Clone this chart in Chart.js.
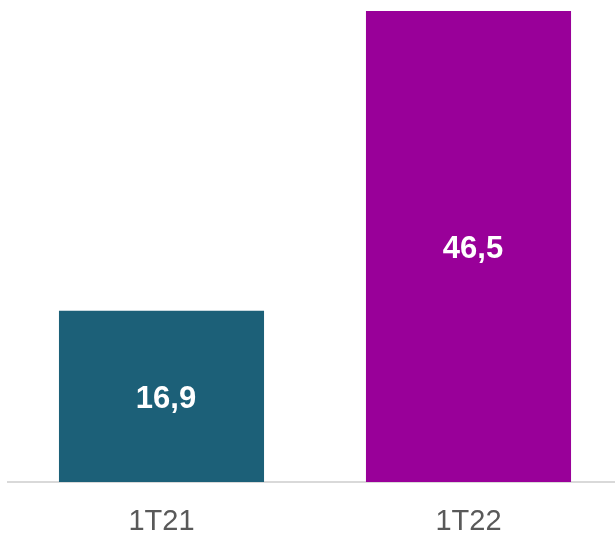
<!DOCTYPE html>
<html>
<head>
<meta charset="utf-8">
<script src="https://cdn.jsdelivr.net/npm/chart.js@4"></script>
<style>
    html, body { margin: 0; padding: 0; background: #fff; overflow: hidden; }
    #wrap { width: 622px; height: 535px; }
</style>
</head>
<body>
<div id="wrap"><canvas id="chart"></canvas></div>
<script>
const periods = ["1T21", "1T22"];
const values = [16.9, 46.5];
const barColors = ["#1c6078", "#990099"];

// white value label centred in each bar
const valueLabels = {
    id: "valueLabels",
    afterDatasetsDraw(chart) {
        const ctx = chart.ctx;
        const meta = chart.getDatasetMeta(0);
        ctx.save();
        ctx.fillStyle = "#ffffff";
        ctx.font = "bold 31px 'Liberation Sans', Arial, sans-serif";
        ctx.textAlign = "center";
        ctx.textBaseline = "middle";
        meta.data.forEach((bar, i) => {
            const y = (bar.y + bar.base) / 2 + 3;
            ctx.fillText(values[i].toFixed(1).replace(".", ","), bar.x + 4.5, y);
        });
        ctx.restore();
    },
};

new Chart(document.getElementById("chart").getContext("2d"), {
    type: "bar",
    data: {
        labels: periods,
        datasets: [
            {
                data: values,
                backgroundColor: barColors,
                categoryPercentage: 1,
                barPercentage: 0.668,
            },
        ],
    },
    options: {
        responsive: true,
        maintainAspectRatio: false,
        animation: false,
        layout: { padding: { top: 11, left: 8, right: 0, bottom: 0 } },
        plugins: {
            legend: { display: false },
            tooltip: { enabled: false },
        },
        scales: {
            x: {
                grid: { display: false, drawTicks: false },
                border: { display: true, color: "#d9d9d9", width: 2 },
                ticks: {
                    color: "#595959",
                    padding: 23,
                    font: { family: "'Liberation Sans', Arial, sans-serif", size: 29 },
                },
                afterFit: (scale) => {
                    scale.height = 53;
                },
            },
            y: {
                display: false,
                min: 0,
                max: 46.5,
            },
        },
    },
    plugins: [valueLabels],
});
</script>
</body>
</html>
